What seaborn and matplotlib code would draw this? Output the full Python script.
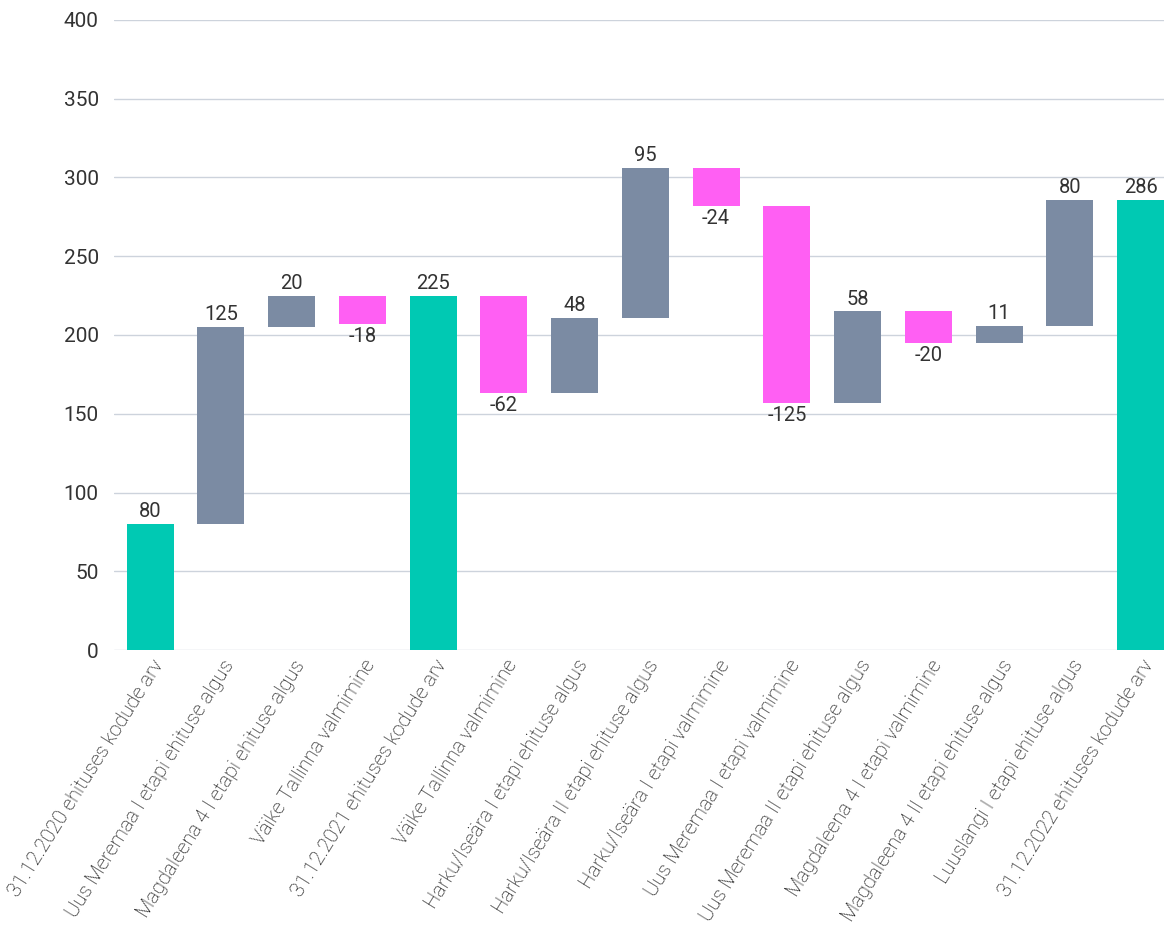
import matplotlib
matplotlib.use("Agg")
import matplotlib.pyplot as plt
import matplotlib.transforms as mtransforms
import seaborn as sns
import numpy as np

categories = [
    "31.12.2020 ehituses kodude arv",
    "Uus Meremaa I etapi ehituse algus",
    "Magdaleena 4 I etapi ehituse algus",
    "Väike Tallinna valmimine",
    "31.12.2021 ehituses kodude arv",
    "Väike Tallinna valmimine",
    "Harku/Iseära I etapi ehituse algus",
    "Harku/Iseära II etapi ehituse algus",
    "Harku/Iseära I etapi valmimine",
    "Uus Meremaa I etapi valmimine",
    "Uus Meremaa II etapi ehituse algus",
    "Magdaleena 4 I etapi valmimine",
    "Magdaleena 4 II etapi ehituse algus",
    "Luuslangi I etapi ehituse algus",
    "31.12.2022 ehituses kodude arv",
]
values = [80, 125, 20, -18, 225, -62, 48, 95, -24, -125, 58, -20, 11, 80, 286]
is_total = [True, False, False, False, True, False, False, False, False, False,
            False, False, False, False, True]
y_ticks = [0, 50, 100, 150, 200, 250, 300, 350, 400]

TEAL = "#00C9B3"
GREY = "#7B8BA3"
PINK = "#FF5FF3"

# waterfall geometry
bottoms, heights, tops = [], [], []
level = 0
for v, t in zip(values, is_total):
    if t:
        b, h = 0, v
        level = v
    else:
        start = level
        level = level + v
        b, h = min(start, level), abs(v)
    bottoms.append(b)
    heights.append(h)
    tops.append(level)

colors = [TEAL if t else (GREY if v >= 0 else PINK) for v, t in zip(values, is_total)]

sns.set_theme(style="white")
plt.rcParams["font.family"] = ["Roboto", "DejaVu Sans"]

fig = plt.figure(figsize=(11.64, 9.33), dpi=100)
ax = fig.add_axes([114 / 1164, (933 - 650) / 933, 1050 / 1164, 630 / 933])

idx = list(range(len(categories)))
sns.barplot(x=idx, y=heights, bottom=bottoms, ax=ax, width=0.664,
            native_scale=True, saturation=1, color=GREY)
for p, c in zip(ax.patches, colors):
    p.set_facecolor(c)
    p.set_edgecolor("none")

NUM = "#333333"
TXT = "#000000"
ax.set_xlim(-0.51, 14.33)
ax.set_ylim(0, 400)
ax.set_yticks(y_ticks)
ax.set_yticklabels([str(t) for t in y_ticks], fontsize=15, color=NUM)
ax.yaxis.grid(True, color="#CDD3DC", linewidth=1)
ax.set_axisbelow(True)
ax.tick_params(axis="y", length=0, pad=11)
ax.tick_params(axis="x", length=0, pad=4)
for s in ax.spines.values():
    s.set_visible(False)

ax.set_xticks(idx)
ax.set_xticklabels(categories, rotation=58, ha="right", va="center",
                   rotation_mode="anchor", fontsize=14.5, color=TXT,
                   fontweight="light")
offset = mtransforms.ScaledTranslation(9 / 100, -6 / 100, fig.dpi_scale_trans)
for lab in ax.get_xticklabels():
    lab.set_transform(lab.get_transform() + offset)

# value labels
for i, (v, t, b, h) in enumerate(zip(values, is_total, bottoms, heights)):
    if t or v >= 0:
        ax.annotate(str(v), (i, b + h), xytext=(0, 2), textcoords="offset points",
                    ha="center", va="bottom", fontsize=14.5, color=NUM)
    else:
        ax.annotate(str(v), (i, b), xytext=(0, -2), textcoords="offset points",
                    ha="center", va="top", fontsize=14.5, color=NUM)

ax.set_xlabel("")
ax.set_ylabel("")
fig.savefig("out.png", dpi=100)
